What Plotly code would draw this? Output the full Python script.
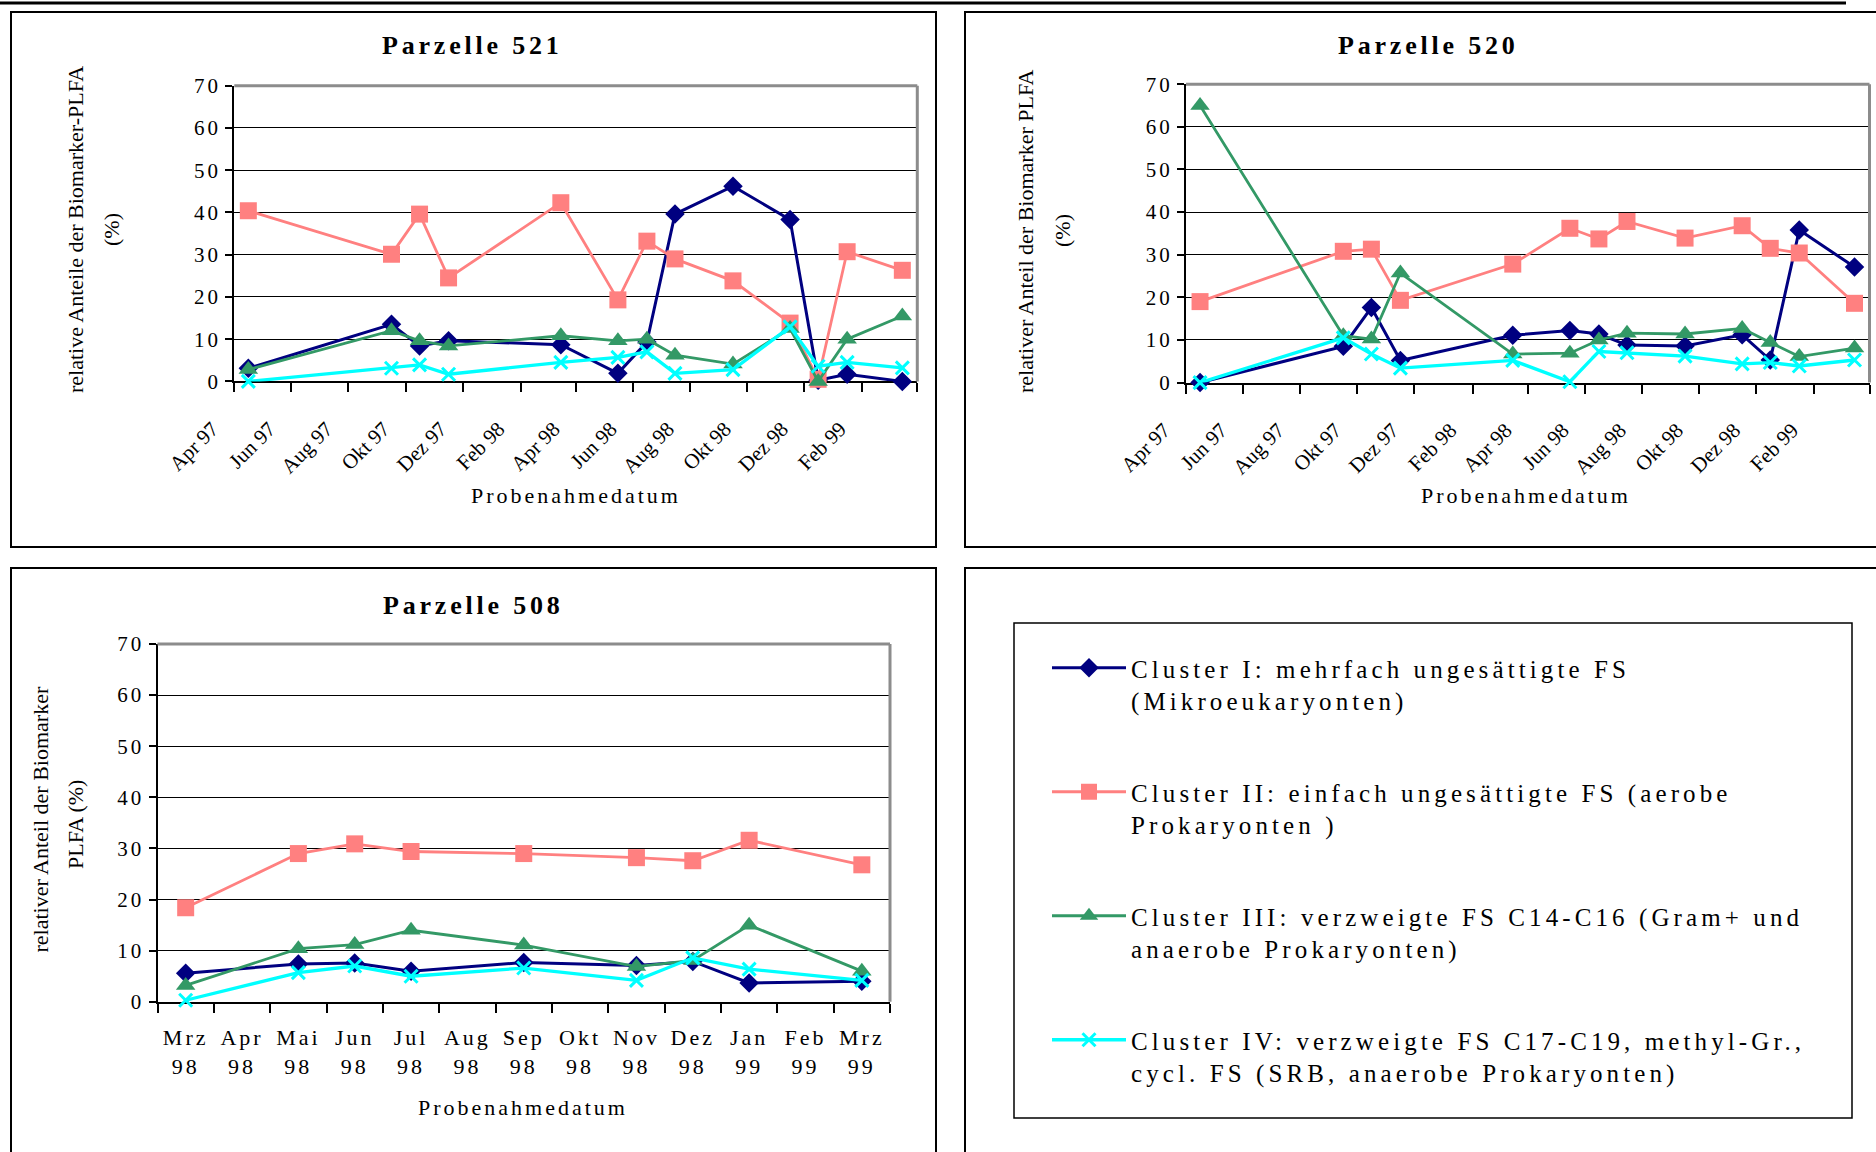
import plotly.graph_objects as go

# ---------------- data ----------------
# sampling dates shared by plots 521 and 520
dates_521_520 = ["1997-04-16", "1997-09-16", "1997-10-16", "1997-11-16", "1998-03-16",
                 "1998-05-16", "1998-06-16", "1998-07-16", "1998-09-16", "1998-11-16",
                 "1998-12-16", "1999-01-16", "1999-03-16"]

p521_c1 = [3.1, 13.5, 8.4, 9.6, 8.7, 1.9, 9.3, 39.6, 46.2, 38.3, 0.3, 1.7, 0.0]
p521_c2 = [40.4, 30.1, 39.6, 24.5, 42.3, 19.3, 33.2, 29.0, 23.8, 13.8, 0.5, 30.7, 26.3]
p521_c3 = [2.8, 12.0, 9.6, 8.4, 10.8, 9.6, 10.0, 6.2, 4.1, 12.5, 0.0, 10.0, 15.5]
p521_c4 = [0.0, 3.1, 3.9, 1.7, 4.5, 5.7, 7.0, 1.9, 2.8, 12.9, 3.6, 4.5, 3.2]

p520_c1 = [0.0, 8.5, 17.6, 5.2, 11.1, 12.2, 11.4, 8.8, 8.6, 11.2, 5.3, 35.8, 27.1]
p520_c2 = [19.0, 30.8, 31.3, 19.3, 27.8, 36.2, 33.7, 37.8, 33.9, 36.8, 31.5, 30.4, 18.6]
p520_c3 = [65.0, 11.0, 10.2, 25.7, 6.7, 6.9, 10.0, 11.6, 11.4, 12.7, 9.4, 6.1, 8.1]
p520_c4 = [0.0, 10.5, 6.7, 3.4, 5.2, 0.2, 7.3, 7.0, 6.2, 4.4, 4.7, 3.9, 5.3]

# plot 508: category axis (months)
months_508 = ["Mrz 98", "Apr 98", "Mai 98", "Jun 98", "Jul 98", "Aug 98", "Sep 98",
              "Okt 98", "Nov 98", "Dez 98", "Jan 99", "Feb 99", "Mrz 99"]
samples_508 = ["Mrz 98", "Mai 98", "Jun 98", "Jul 98", "Sep 98", "Nov 98", "Dez 98",
               "Jan 99", "Mrz 99"]
p508_c1 = [5.6, 7.4, 7.6, 6.0, 7.7, 7.1, 7.9, 3.7, 4.0]
p508_c2 = [18.4, 29.0, 30.9, 29.4, 29.0, 28.2, 27.6, 31.6, 26.8]
p508_c3 = [3.2, 10.4, 11.2, 14.0, 11.1, 6.9, 8.1, 15.0, 6.0]
p508_c4 = [0.3, 5.7, 7.0, 5.0, 6.6, 4.2, 8.6, 6.4, 4.2]

# date-axis ticks of 521/520
date_tickvals = ["1997-04-01", "1997-06-01", "1997-08-01", "1997-10-01", "1997-12-01",
                 "1998-02-01", "1998-04-01", "1998-06-01", "1998-08-01", "1998-10-01",
                 "1998-12-01", "1999-02-01", "1999-04-01"]
date_ticktext = ["Apr 97", "Jun 97", "Aug 97", "Okt 97", "Dez 97", "Feb 98", "Apr 98",
                 "Jun 98", "Aug 98", "Okt 98", "Dez 98", "Feb 99", ""]
y_ticks = [0, 10, 20, 30, 40, 50, 60, 70]

series_names = [
    ["Cluster I: mehrfach ungesättigte FS", "(Mikroeukaryonten)"],
    ["Cluster II: einfach ungesättigte FS (aerobe", "Prokaryonten )"],
    ["Cluster III: verzweigte FS C14-C16 (Gram+ und", "anaerobe Prokaryonten)"],
    ["Cluster IV: verzweigte FS C17-C19, methyl-Gr.,", "cycl. FS (SRB, anaerobe Prokaryonten)"],
]

# ---------------- style ----------------
W, H = 1876, 1152
SERIF = "Liberation Serif, Times New Roman, serif"
colors = ["#000080", "#FF8080", "#339966", "#00FFFF"]
symbols = ["diamond", "square", "triangle-up", "x-thin"]
msizes = [15, 17, 17, 13]
lwidths = [3, 2.8, 2.8, 3.3]


def sp(text, px):
    return f'<span style="letter-spacing:{px}px">{text}</span>'


def px_x(v):
    return v / W


def px_y(v):
    return 1 - v / H


fig = go.Figure()

panels = [
    ("x", "y", dates_521_520, [p521_c1, p521_c2, p521_c3, p521_c4]),
    ("x2", "y2", dates_521_520, [p520_c1, p520_c2, p520_c3, p520_c4]),
    ("x3", "y3", samples_508, [p508_c1, p508_c2, p508_c3, p508_c4]),
]

for pi, (xa, ya, xs, ser) in enumerate(panels):
    for i, vals in enumerate(ser):
        mk = dict(symbol=symbols[i], size=msizes[i], color=colors[i])
        if symbols[i] == "x-thin":
            mk["line"] = dict(color=colors[i], width=3)
        else:
            mk["line"] = dict(width=0)
        fig.add_trace(go.Scatter(
            x=xs, y=vals, xaxis=xa, yaxis=ya, mode="lines+markers",
            line=dict(color=colors[i], width=lwidths[i]),
            marker=mk, cliponaxis=False,
            name=sp(series_names[i][0], 4.1) + "<br>" + sp(series_names[i][1], 4.1),
            legendgroup=f"c{i}", showlegend=(pi == 0),
        ))

# plot-area pixel boxes (left, right, top, bottom)
boxes = {
    "1": (234.3, 917.3, 85.7, 381.4),
    "2": (1186.0, 1869.5, 84.2, 382.6),
    "3": (157.5, 890.0, 644.0, 1001.8),
}

common_y = dict(range=[0, 70], tickmode="array", tickvals=y_ticks,
                ticktext=[sp(str(v), 3) for v in y_ticks], automargin=False,
                showgrid=True, gridcolor="black", gridwidth=1, zeroline=False,
                showline=True, linecolor="black", linewidth=2,
                ticks="outside", ticklen=7, tickwidth=1.5, tickcolor="black",
                tickfont=dict(family=SERIF, size=21, color="black"), fixedrange=True)

date_x = dict(type="date", range=["1997-04-01", "1999-04-01"], tickmode="array",
              tickvals=date_tickvals, ticktext=date_ticktext, tickangle=-45, automargin=False,
              showgrid=False, zeroline=False, showline=True, linecolor="black", linewidth=2,
              ticks="outside", ticklen=9, tickwidth=1.5, tickcolor="black",
              tickfont=dict(family=SERIF, size=21, color="black"),
              ticklabelstandoff=16, ticklabelshift=-22, layer="below traces")

l, r, t, b = boxes["1"]
fig.update_layout(
    xaxis=dict(domain=[px_x(l), px_x(r)], anchor="y", **date_x),
    yaxis=dict(domain=[px_y(b), px_y(t)], anchor="x", **common_y),
)
l, r, t, b = boxes["2"]
fig.update_layout(
    xaxis2=dict(domain=[px_x(l), px_x(r)], anchor="y2", **date_x),
    yaxis2=dict(domain=[px_y(b), px_y(t)], anchor="x2", **common_y),
)
l, r, t, b = boxes["3"]
fig.update_layout(
    xaxis3=dict(domain=[px_x(l), px_x(r)], anchor="y3", type="category",
                categoryorder="array", categoryarray=months_508, range=[-0.5, 12.5],
                tickmode="array", tickvals=months_508, tickangle=0, automargin=False,
                ticktext=[sp(m.split(" ")[0], 3) + "<br>" + sp(m.split(" ")[1], 3) for m in months_508],
                tickson="boundaries", showgrid=False, zeroline=False, showline=True,
                linecolor="black", linewidth=2, ticks="outside", ticklen=9, tickwidth=1.5,
                tickcolor="black", tickfont=dict(family=SERIF, size=22, color="black"),
                ticklabelstandoff=15, layer="below traces"),
    yaxis3=dict(domain=[px_y(b), px_y(t)], anchor="x3", **common_y),
)

shapes = []
# grey plot-area border (top and right)
for xr, yr in [("x", "y"), ("x2", "y2"), ("x3", "y3")]:
    shapes.append(dict(type="line", xref=f"{xr} domain", yref=f"{yr} domain",
                       x0=0, x1=1, y0=1, y1=1, line=dict(color="#8c8c8c", width=3)))
    shapes.append(dict(type="line", xref=f"{xr} domain", yref=f"{yr} domain",
                       x0=1, x1=1, y0=0, y1=1, line=dict(color="#8c8c8c", width=3)))
# panel frames
frames = [(11, 936, 12, 547), (965, 1880, 12, 547), (11, 936, 568, 1156), (965, 1880, 568, 1156)]
for (x0, x1, y0, y1) in frames:
    shapes.append(dict(type="rect", xref="paper", yref="paper", x0=px_x(x0), x1=px_x(x1),
                       y0=px_y(y1), y1=px_y(y0), line=dict(color="black", width=2)))
# top rule
shapes.append(dict(type="line", xref="paper", yref="paper", x0=0, x1=px_x(1846),
                   y0=px_y(3), y1=px_y(3), line=dict(color="black", width=3)))
# legend box
shapes.append(dict(type="rect", xref="paper", yref="paper", x0=px_x(1014), x1=px_x(1852),
                   y0=px_y(1118), y1=px_y(623), line=dict(color="black", width=1.5)))

annotations = []
titles = [("Parzelle 521", 472.6, 45.5), ("Parzelle 520", 1428.3, 45.5), ("Parzelle 508", 473.6, 605)]
for txt, cx, cy in titles:
    annotations.append(dict(text=sp("<b>" + txt + "</b>", 3.8), x=px_x(cx), y=px_y(cy),
                            xref="paper", yref="paper", showarrow=False,
                            xanchor="center", yanchor="middle",
                            font=dict(family=SERIF, size=26, color="black")))
xlabels = [(575.5, 495), (1526, 495), (523, 1107)]
for cx, cy in xlabels:
    annotations.append(dict(text=sp("Probenahmedatum", 3), x=px_x(cx), y=px_y(cy),
                            xref="paper", yref="paper", showarrow=False,
                            xanchor="center", yanchor="middle",
                            font=dict(family=SERIF, size=22, color="black")))
ylabels = [("relative Anteile der Biomarker-PLFA", 75, 230), ("(%)", 111, 230),
           ("relativer Anteil der Biomarker PLFA", 1025, 231), ("(%)", 1062, 231),
           ("relativer Anteil der Biomarker", 39.5, 820), ("PLFA (%)", 75, 825)]
for txt, cx, cy in ylabels:
    annotations.append(dict(text=txt, x=px_x(cx), y=px_y(cy), xref="paper", yref="paper",
                            showarrow=False, textangle=-90, xanchor="center", yanchor="middle",
                            font=dict(family=SERIF, size=22, color="black")))

fig.update_layout(
    template="none",
    width=W, height=H, margin=dict(l=0, r=0, t=0, b=0, pad=0, autoexpand=False),
    paper_bgcolor="white", plot_bgcolor="white",
    font=dict(family=SERIF, color="black"),
    shapes=shapes, annotations=annotations,
    showlegend=True,
    legend=dict(x=px_x(1047), y=px_y(645), xanchor="left", yanchor="top",
                bgcolor="rgba(0,0,0,0)", borderwidth=0, itemwidth=74,
                tracegroupgap=56, valign="top", traceorder="grouped",
                font=dict(family=SERIF, size=25, color="black")),
)

fig.write_html("out.html", config={"displayModeBar": False},
               post_script="document.body.style.margin='0';")
